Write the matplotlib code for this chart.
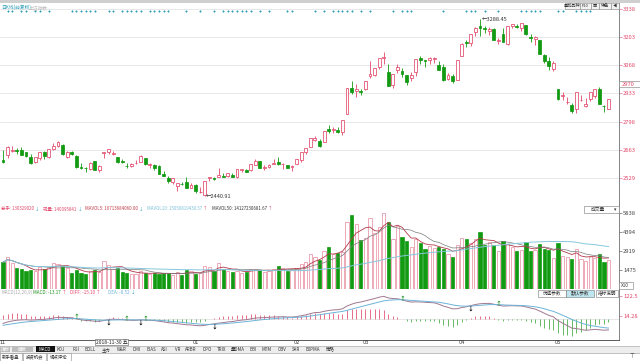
import numpy as np
import pandas as pd
import matplotlib
matplotlib.use("Agg")
import matplotlib.pyplot as plt
from matplotlib.patches import Rectangle

plt.rcParams['font.family'] = ['Noto Sans CJK SC', 'DejaVu Sans']

# ---- 上证指数 日K 2018-11-01 ~ 2019-05-21 ----
holidays = ['2018-12-31', '2019-01-01', '2019-02-04', '2019-02-05', '2019-02-06',
            '2019-02-07', '2019-02-08', '2019-04-05', '2019-05-01', '2019-05-02', '2019-05-03']

opens = [2614, 2641, 2659, 2664, 2665, 2652, 2628, 2605, 2623, 2655, 2630, 2668, 2681, 2686, 2630, 2651, 2636, 2583, 2578, 2570, 2610, 2567,
         2647, 2654, 2643, 2631, 2612, 2587, 2588, 2600, 2606, 2623, 2591, 2592, 2585, 2550, 2527, 2510, 2490, 2501, 2512, 2480,
         2497, 2461, 2446, 2529, 2528, 2535, 2541, 2539, 2545, 2536, 2567, 2566, 2566, 2592, 2608, 2575, 2581, 2598, 2605, 2594, 2590, 2580,
         2597, 2613, 2651, 2677, 2713, 2708, 2700, 2763, 2757, 2760, 2747, 2833, 2961, 2946, 2946,
         2954, 3015, 3023, 3060, 3104, 3038, 2972, 3044, 3040, 3023, 3005, 3035, 3102, 3091, 3094, 3100, 3070, 3058, 3002, 3016, 2999,
         3111, 3177, 3172, 3229, 3257, 3246, 3230, 3239, 3185, 3218, 3171, 3257, 3254, 3245, 3259, 3203, 3194, 3187, 3117, 3090, 3052,
         2955, 2923, 2891, 2880, 2860, 2900, 2872, 2906, 2920, 2955, 2874, 2861]
highs = [2661, 2680, 2681, 2671, 2675, 2653, 2645, 2631, 2655, 2657, 2669, 2696, 2704, 2692, 2659, 2659, 2638, 2601, 2582, 2605, 2612, 2589,
         2654, 2667, 2657, 2631, 2621, 2599, 2599, 2614, 2637, 2625, 2603, 2594, 2590, 2562, 2541, 2530, 2505, 2510, 2534, 2505,
         2500, 2488, 2515, 2536, 2534, 2575, 2555, 2554, 2552, 2571, 2574, 2573, 2598, 2619, 2609, 2589, 2596, 2618, 2630, 2601, 2592, 2591,
         2619, 2654, 2673, 2721, 2730, 2716, 2755, 2782, 2771, 2773, 2804, 2961, 2995, 2979, 2954,
         2995, 3090, 3056, 3103, 3129, 3076, 3028, 3075, 3054, 3023, 3035, 3096, 3110, 3094, 3107, 3108, 3086, 3073, 3032, 3027, 3092,
         3176, 3191, 3217, 3250, 3288.45, 3255, 3253, 3246, 3200, 3247, 3254, 3267, 3265, 3271, 3260, 3219, 3210, 3187, 3123, 3107, 3088,
         2955, 2940, 2917, 2887, 2939, 2925, 2912, 2939, 2956, 2962, 2880, 2907]
lows = [2599, 2623, 2651, 2644, 2641, 2631, 2595, 2600, 2615, 2621, 2626, 2664, 2675, 2641, 2627, 2640, 2579, 2573, 2556, 2565, 2566, 2560,
        2624, 2645, 2639, 2603, 2601, 2579, 2581, 2596, 2606, 2592, 2577, 2568, 2546, 2537, 2506, 2502, 2467, 2494, 2483, 2479,
        2456, 2455, 2440.91, 2516, 2518, 2535, 2532, 2533, 2535, 2530, 2558, 2557, 2563, 2591, 2578, 2568, 2576, 2595, 2591, 2573, 2575, 2561,
        2596, 2604, 2644, 2677, 2704, 2679, 2700, 2746, 2746, 2742, 2734, 2833, 2931, 2914, 2924,
        2951, 3006, 3015, 3050, 3075, 2969, 2960, 3030, 3011, 2975, 2994, 3018, 3075, 3058, 3076, 3079, 3043, 2993, 2999, 2984, 2999,
        3111, 3155, 3162, 3206, 3208, 3222, 3211, 3188, 3170, 3177, 3166, 3244, 3244, 3233, 3212, 3179, 3166, 3120, 3080, 3046, 3039,
        2900, 2902, 2884, 2838, 2839, 2899, 2868, 2897, 2911, 2881, 2844, 2858]
closes = [2606, 2676, 2665, 2659, 2641, 2635, 2599, 2630, 2654, 2632, 2668, 2680, 2703, 2646, 2651, 2646, 2580, 2576, 2575, 2602, 2567, 2588,
          2654, 2666, 2649, 2605, 2606, 2585, 2594, 2603, 2634, 2594, 2597, 2576, 2550, 2537, 2516, 2527, 2504, 2498, 2483, 2494,
          2465, 2464, 2515, 2534, 2526, 2545, 2535, 2554, 2536, 2570, 2570, 2560, 2596, 2611, 2579, 2582, 2592, 2601, 2597, 2594, 2575, 2585,
          2618, 2654, 2672, 2721, 2719, 2682, 2755, 2756, 2761, 2751, 2804, 2961, 2941, 2954, 2941,
          2994, 3027, 3055, 3103, 3106, 2969, 3027, 3060, 3026, 2990, 3022, 3096, 3091, 3090, 3101, 3104, 3043, 2997, 3022, 2995, 3091,
          3171, 3176, 3217, 3247, 3245, 3240, 3242, 3189, 3189, 3177, 3254, 3263, 3251, 3271, 3216, 3198, 3202, 3124, 3086, 3063, 3078,
          2906, 2926, 2893, 2850, 2939, 2904, 2884, 2939, 2956, 2882, 2871, 2905]
# volume, x10 units
volumes = [2050, 2440, 2020, 1610, 1500, 1340, 1430, 1370, 1670, 1520, 1680, 2020, 1900, 1760, 1580, 1230, 1440, 1180, 1170, 1390, 1450, 1303,
           2180, 1850, 1560, 1600, 1300, 1230, 1100, 1150, 1330, 1200, 1130, 1200, 1120, 1200, 1250, 1040, 1300, 1030, 1450, 1350,
           1110, 1180, 1750, 1670, 1390, 2000, 1530, 1380, 1290, 1380, 1250, 1300, 1560, 1550, 1420, 1260, 1380, 1500, 1730, 1630, 1350, 1450,
           1580, 1890, 2030, 2700, 2420, 2190, 2900, 3260, 2660, 2770, 2880, 5200, 5700, 5000, 3800,
           3900, 5500, 4300, 4800, 5900, 5200, 3840, 4870, 4010, 3670, 3220, 3870, 3550, 3060, 3320, 3140, 3260, 3060, 2650, 2420, 3350,
           3950, 3820, 3530, 3850, 4430, 3370, 3620, 3390, 2890, 3660, 3480, 3240, 2930, 3010, 3580, 2900, 2980, 3450, 3090, 3000, 2400,
           3520, 2550, 2450, 2300, 3060, 2320, 2180, 2500, 2340, 2700, 2100, 2250]
signal_idx = [1, 2, 4, 5, 7, 8, 10, 15, 16, 17, 18, 19, 20, 23, 24, 26, 27, 28, 29, 30, 32, 33, 34, 35, 36,
              40, 43, 46, 48, 49, 50, 51, 52, 53, 54, 56, 58, 62, 63, 68, 70, 72, 73, 74, 75, 76, 78, 80,
              85, 87, 88, 89, 96, 101, 102, 103, 105, 108, 113, 114, 115, 116, 117, 121, 122, 125, 126, 127, 128]
# EMA state carried in from before the window
ema12_seed, ema26_seed, dea_seed = 2600.0, 2628.0, -38.0

price_ticks = [2529, 2663, 2798, 2933, 3068, 3203, 3338]
vol_ticks = [1475, 2919, 4394, 5838]
macd_ticks = [14.28, 122.5]
month_labels = ['11', '01', '02', '03', '04', '05']
cursor_date = '2018-11-30'

dates = pd.bdate_range('2018-11-01', '2019-05-21')
dates = dates[~dates.isin(pd.to_datetime(holidays))]
n = len(closes)
x = np.arange(n)
o = np.array(opens, float); h = np.array(highs, float)
l = np.array(lows, float); c = np.array(closes, float)
v = np.array(volumes, float)
up = c >= o

# MACD(12,26,9)
e12 = np.empty(n); e26 = np.empty(n); dea = np.empty(n)
p12, p26, pdea = ema12_seed, ema26_seed, dea_seed
for i in range(n):
    p12 += (c[i] - p12) * 2 / 13
    p26 += (c[i] - p26) * 2 / 27
    e12[i], e26[i] = p12, p26
diff = e12 - e26
for i in range(n):
    pdea += (diff[i] - pdea) * 0.2
    dea[i] = pdea
hist = 2 * (diff - dea)

vs = pd.Series(v)
ma5 = vs.rolling(5, min_periods=1).mean()
ma10 = vs.rolling(10, min_periods=1).mean()
ma50 = vs.rolling(50, min_periods=1).mean()

W, H = 640, 361
fig = plt.figure(figsize=(W / 100, H / 100), dpi=100)
rend = fig.canvas.get_renderer()

def box(x0, y0, x1, y1):
    return [x0 / W, 1 - y1 / H, (x1 - x0) / W, (y1 - y0) / H]

def ftext(px, py, s, **kw):
    kw.setdefault('fontsize', 4.2)
    kw.setdefault('va', 'center')
    return fig.text(px / W, 1 - py / H, s, **kw)

def frect(x0, y0, x1, y1, **kw):
    fig.add_artist(Rectangle((x0 / W, 1 - y1 / H), (x1 - x0) / W, (y1 - y0) / H,
                             transform=fig.transFigure, **kw))

def header(py, items, fs):
    # each item: text, start x, colour, arrow, arrow colour
    for s, px, col, arr, acol in items:
        t = ftext(px, py, s, color=col, fontsize=fs)
        if arr:
            x1 = t.get_window_extent(renderer=rend).x1
            ftext(x1 + 1, py, arr, color=acol, fontsize=fs)

RED = '#e2476a'
GREEN = '#129a12'
TEAL = '#2a9cb6'
xl = (-3 / 4.587, 616 / 4.587)

ax_p = fig.add_axes(box(0, 3, 619, 205))
ax_v = fig.add_axes(box(0, 205, 619, 288.6))
ax_m = fig.add_axes(box(0, 288.6, 619, 340))
for ax in (ax_p, ax_v, ax_m):
    ax.set_xlim(*xl)
    for s in ('left', 'top'):
        ax.spines[s].set_visible(False)
    ax.spines['right'].set_color('#707070')
    ax.spines['right'].set_linewidth(0.6)
    ax.spines['bottom'].set_color('#a0a0a0')
    ax.spines['bottom'].set_linewidth(0.6)
    ax.yaxis.tick_right()
    ax.tick_params(axis='y', length=2, width=0.4, pad=1, labelsize=4.2)
    ax.tick_params(axis='x', bottom=False, labelbottom=False)

# price panel
ax_p.set_ylim(2400, 3365.5)
ax_p.set_yticks(price_ticks)
ax_p.set_yticklabels([str(t) for t in price_ticks])
ax_p.tick_params(axis='y', colors=RED)
ax_p.grid(axis='y', color='#e4e4e4', lw=0.6)
ax_p.set_axisbelow(True)
wick_col = np.where(up, RED, GREEN)
ax_p.vlines(x, l, h, colors=wick_col, lw=0.6, zorder=2)
body = np.abs(c - o)
ax_p.bar(x, body, bottom=np.minimum(o, c), width=0.62,
         facecolor=np.where(up, 'white', GREEN), edgecolor=wick_col, linewidth=0.55, zorder=3)
ax_p.scatter(signal_idx, [0.962] * len(signal_idx), transform=ax_p.get_xaxis_transform(),
             marker='D', s=1.6, color=TEAL, zorder=4, linewidths=0)
imax, imin = int(np.argmax(h)), int(np.argmin(l))
ax_p.text(imax + 0.3, h[imax], '←%.2f' % h[imax], fontsize=4, va='center', ha='left', color='#333333')
ax_p.text(imin + 0.3, l[imin], '←%.2f' % l[imin], fontsize=4, va='center', ha='left', color='#333333')

# volume panel
ax_v.set_ylim(0, 6491)
ax_v.set_yticks(vol_ticks)
ax_v.set_yticklabels([str(t) for t in vol_ticks])
ax_v.tick_params(axis='y', colors='#444444')
ax_v.bar(x, v, width=0.7, facecolor=np.where(up, 'white', GREEN),
         edgecolor=np.where(up, '#e8889c', GREEN), linewidth=0.5)
ax_v.plot(x, ma5, color='#b33a4a', lw=0.6)
ax_v.plot(x, ma10, color='#7a7a7a', lw=0.5)
ax_v.plot(x, ma50, color='#86c8dc', lw=0.7)

# MACD panel
ax_m.set_ylim(-116.3, 165)
ax_m.set_yticks(macd_ticks)
ax_m.set_yticklabels(['14.28', '122.5'])
ax_m.tick_params(axis='y', colors=RED)
ax_m.axhline(0, color='#dddddd', lw=0.5)
ax_m.vlines(x, 0, hist, colors=np.where(hist >= 0, RED, '#3aa83a'), lw=0.55)
ax_m.plot(x, diff, color='#a07890', lw=0.7)
ax_m.plot(x, dea, color='#6cb4d8', lw=0.7)
for i in range(1, n):
    if diff[i - 1] <= dea[i - 1] and diff[i] > dea[i]:
        ax_m.text(i, dea[i] - 14, '↓', color='black', fontsize=4.2, ha='center', va='center', fontweight='bold')
    elif diff[i - 1] >= dea[i - 1] and diff[i] < dea[i]:
        ax_m.text(i, dea[i] + 10, '↑', color='#1f8f1f', fontsize=4.2, ha='center', va='center', fontweight='bold')
ax_m.spines['bottom'].set_color('#404040')

# month labels under the MACD panel (December hidden behind the cursor label)
xt = ax_m.get_xaxis_transform()
for m in month_labels:
    mi = int(np.argmax(dates.month == int(m)))
    ax_m.text(mi, -0.042, m, transform=xt, fontsize=3.6, ha='center', va='center',
              color='#333333', family='DejaVu Sans')
ci = int(np.where(dates == pd.Timestamp(cursor_date))[0][0])
ax_m.text(ci - 0.8, -0.042, cursor_date + ' 五', transform=xt,
          fontsize=3.6, ha='left', va='center', color='#222222',
          bbox=dict(boxstyle='square,pad=0.12', fc='white', ec='#555555', lw=0.4))

# top strip and labels
frect(0, 0, 640, 3, color='#cfcfcf', lw=0)
ftext(1, 7.5, '日K线(前复权)', color=TEAL, fontsize=3.4)
ftext(29, 7.5, '上证指数', color='#bbbbbb', fontsize=3.4)
for lab, x0, x1 in [('叠加品种', 565, 580), ('F10', 580, 591), ('画', 591, 599), ('特色', 599, 611), ('◀', 611, 619)]:
    frect(x0, 3, x1, 9, fc='#f2f2f2', ec='#888888', lw=0.4)
    ftext((x0 + x1) / 2, 6, lab, ha='center', fontsize=3.0, color='#333333')
frect(619, 81, 640, 87, fc='white', ec='#777777', lw=0.4)
ftext(622, 84, '2970', color=RED, fontsize=4.2)

# volume header
header(209, [('总手: 130329020', 1, RED, '↓', TEAL),
             ('现量: 140095841', 43, RED, '↓', TEAL),
             ('MAVOL5: 16713684060.00', 85, '#c0394a', '↓', TEAL),
             ('MAVOL10: 15050819430.57', 147, '#7cc0d8', '↑', RED),
             ('MAVOL50: 14127230681.67', 212, '#333333', '↑', RED)], 3.2)
frect(584, 206, 619, 213, fc='white', ec='#777777', lw=0.4)
ftext(598, 209.5, '成交量', ha='center', fontsize=3.4, color='#333333')
ftext(615, 209.5, '▾', ha='center', fontsize=3.4, color='#333333')
frect(619, 282, 633, 289, fc='white', ec='#777777', lw=0.4)
ftext(621, 285.5, 'X10', color='#333333', fontsize=3.4)

# MACD header
header(292, [('MACD(12,26,9)', 1, '#aaaaaa', '', ''),
             ('MACD: -13.17', 33, '#1f8f1f', '↑', RED),
             ('DIFF: -15.10', 70, RED, '↑', RED),
             ('DEA: -8.52', 108, '#6cb4d8', '↓', TEAL)], 3.3)
for lab, x0, x1, fc in [('优选参数', 538, 566, 'white'), ('默认参数', 566, 594, '#bfe6ee'), ('指标说明', 596, 618, 'white')]:
    frect(x0, 289.5, x1, 296.5, fc=fc, ec='#777777', lw=0.4)
    ftext((x0 + x1) / 2, 293, lab, ha='center', fontsize=3.3, color='#333333')

# tab bar
frect(0, 346, 640, 352.5, fc='#ededed', ec='#999999', lw=0.4)
tab_names = ['指标', '模板', 'MACD', 'KDJ', 'RSI', 'BOLL', '主力', 'W&R', 'DMI', 'BIAS', 'ASI',
             'VR', 'ARBR', 'DPO', 'TRIX', '量DMA', 'BBI', 'MTM', 'OBV', 'SAR', 'EXPMA']
tab_x = [5, 22, 45, 61, 76, 90, 106, 122, 137, 151, 164, 178, 191, 207, 222, 238, 253, 267, 282, 296, 313]
ty = 349.4
for lab, tx in zip(tab_names, tab_x):
    if lab == 'MACD':
        frect(36, 346.4, 55, 352.2, fc='#111111', lw=0)
        ftext(tx, ty, lab, ha='center', fontsize=3.2, color='white')
    elif lab in ('指标', '模板'):
        frect(tx - 5 if lab == '指标' else 12, 346.4, tx + 5 if lab == '指标' else 33, 352.2, fc='#bdbdbd', lw=0)
        ftext(tx, ty, lab, ha='center', fontsize=3.2, color='white')
    else:
        ftext(tx, ty, lab, ha='center', fontsize=3.2, color='#333333')
ftext(330, ty, '策略', ha='center', fontsize=3.2, color='#333333')
for lab, x0, x1 in [('新手看盘', 0, 22), ('投资机会', 23, 46), ('视点评论', 47, 71)]:
    frect(x0, 353, x1, 360.5, fc='white', ec='#888888', lw=0.4)
    ftext((x0 + x1) / 2, 356.8, lab, ha='center', fontsize=3.2, color='#333333')
ftext(632, 357, '⊤', ha='center', fontsize=4, color='#333333')

fig.savefig('out.png', dpi=100)
